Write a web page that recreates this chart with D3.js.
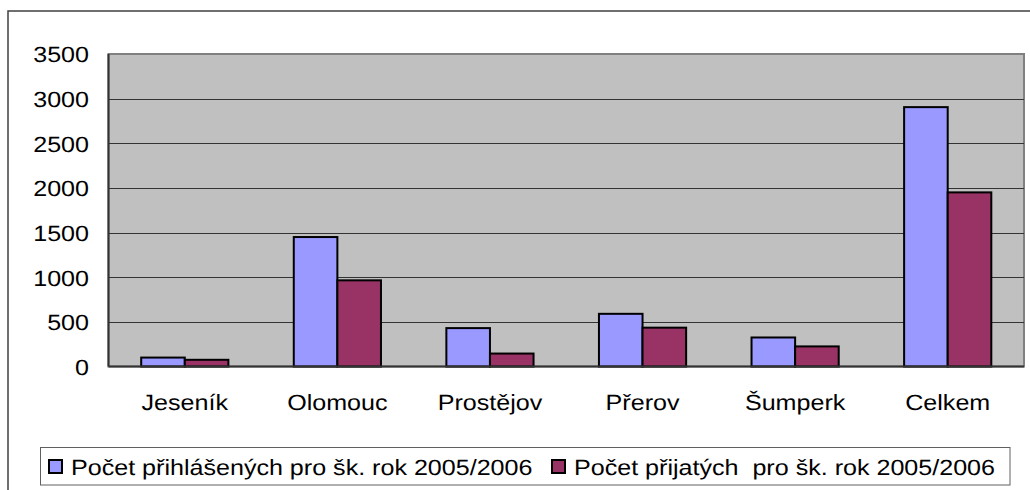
<!DOCTYPE html>
<html><head><meta charset="utf-8">
<script src="https://cdn.jsdelivr.net/npm/d3@7"></script>
<style>html,body{margin:0;padding:0;background:#fff;}svg{display:block;}text{text-rendering:geometricPrecision;}</style>
</head><body>
<script>
const categories = ["Jeseník", "Olomouc", "Prostějov", "Přerov", "Šumperk", "Celkem"];
const seriesNames = ["Počet přihlášených pro šk. rok 2005/2006", "Počet přijatých  pro šk. rok 2005/2006"];
const prihlaseni = [100, 1450, 430, 590, 325, 2905];
const prijati = [75, 965, 145, 435, 225, 1950];
const yTicks = [0, 500, 1000, 1500, 2000, 2500, 3000, 3500];
const colors = ["#9999FF", "#993366"];

const W = 1030, H = 490;
const FONT = "'Liberation Sans', Arial, sans-serif";
const SX = 1.14;
const svg = d3.select("body").append("svg").attr("width", W).attr("height", H);

// outer chart border
svg.append("rect").attr("x", 8).attr("y", 11).attr("width", 1040).attr("height", 500)
  .attr("fill", "#fff").attr("stroke", "#404040").attr("stroke-width", 1.5);

const plot = {l: 108.5, r: 1024, t: 54, b: 366.5};
const x = d3.scaleBand().domain(categories).range([plot.l, plot.r]).paddingInner(0).paddingOuter(0);
const y = d3.scaleLinear().domain([0, 3500]).range([plot.b, plot.t]);

// plot background
svg.append("rect").attr("x", plot.l).attr("y", plot.t).attr("width", plot.r - plot.l).attr("height", plot.b - plot.t)
  .attr("fill", "#C0C0C0").attr("stroke", "#808080").attr("stroke-width", 2);

// gridlines
svg.append("g").selectAll("line").data(yTicks.filter(d => d > 0 && d < 3500)).join("line")
  .attr("x1", plot.l).attr("x2", plot.r).attr("y1", d => Math.round(y(d)) + 0.5).attr("y2", d => Math.round(y(d)) + 0.5)
  .attr("stroke", "#333").attr("stroke-width", 1.2);

// bars
const gap = 1.5;
const barW = x.bandwidth() / (2 + gap);
[prihlaseni, prijati].forEach((vals, si) => {
  svg.append("g").selectAll("rect").data(categories).join("rect")
    .attr("x", (d) => x(d) + x.bandwidth() / 2 - barW + si * barW)
    .attr("y", (d, i) => y(vals[i]))
    .attr("width", barW)
    .attr("height", (d, i) => y(0) - y(vals[i]))
    .attr("fill", colors[si]).attr("stroke", "#000").attr("stroke-width", 2);
});

// axes lines
svg.append("line").attr("x1", plot.l).attr("x2", plot.l).attr("y1", plot.t).attr("y2", plot.b)
  .attr("stroke", "#333").attr("stroke-width", 2);
svg.append("line").attr("x1", plot.l).attr("x2", plot.r).attr("y1", plot.b).attr("y2", plot.b)
  .attr("stroke", "#333").attr("stroke-width", 2);

// y tick labels
svg.append("g").selectAll("text").data(yTicks).join("text")
  .attr("transform", d => `translate(89,${y(d) + 8.3}) scale(${SX},1)`)
  .attr("text-anchor", "end").attr("font-family", FONT).attr("font-size", 22).attr("fill", "#000")
  .text(d => d);

// category labels
svg.append("g").selectAll("text").data(categories).join("text")
  .attr("transform", d => `translate(${x(d) + x.bandwidth() / 2},410) scale(${SX},1)`)
  .attr("text-anchor", "middle").attr("font-family", FONT).attr("font-size", 22).attr("fill", "#000")
  .text(d => d);

// legend
svg.append("rect").attr("x", 40.5).attr("y", 447.5).attr("width", 969.5).attr("height", 37.5)
  .attr("fill", "#fff").attr("stroke", "#606060").attr("stroke-width", 1);
const legX = [49, 552];
seriesNames.forEach((name, i) => {
  svg.append("rect").attr("x", legX[i]).attr("y", 460).attr("width", 13).attr("height", 13)
    .attr("fill", colors[i]).attr("stroke", "#000").attr("stroke-width", 2);
  svg.append("text").attr("transform", `translate(${legX[i] + 22},475) scale(${SX},1)`)
    .attr("font-family", FONT).attr("font-size", 22).attr("fill", "#000")
    .attr("xml:space", "preserve").style("white-space", "pre")
    .text(name);
});
</script>
</body></html>
